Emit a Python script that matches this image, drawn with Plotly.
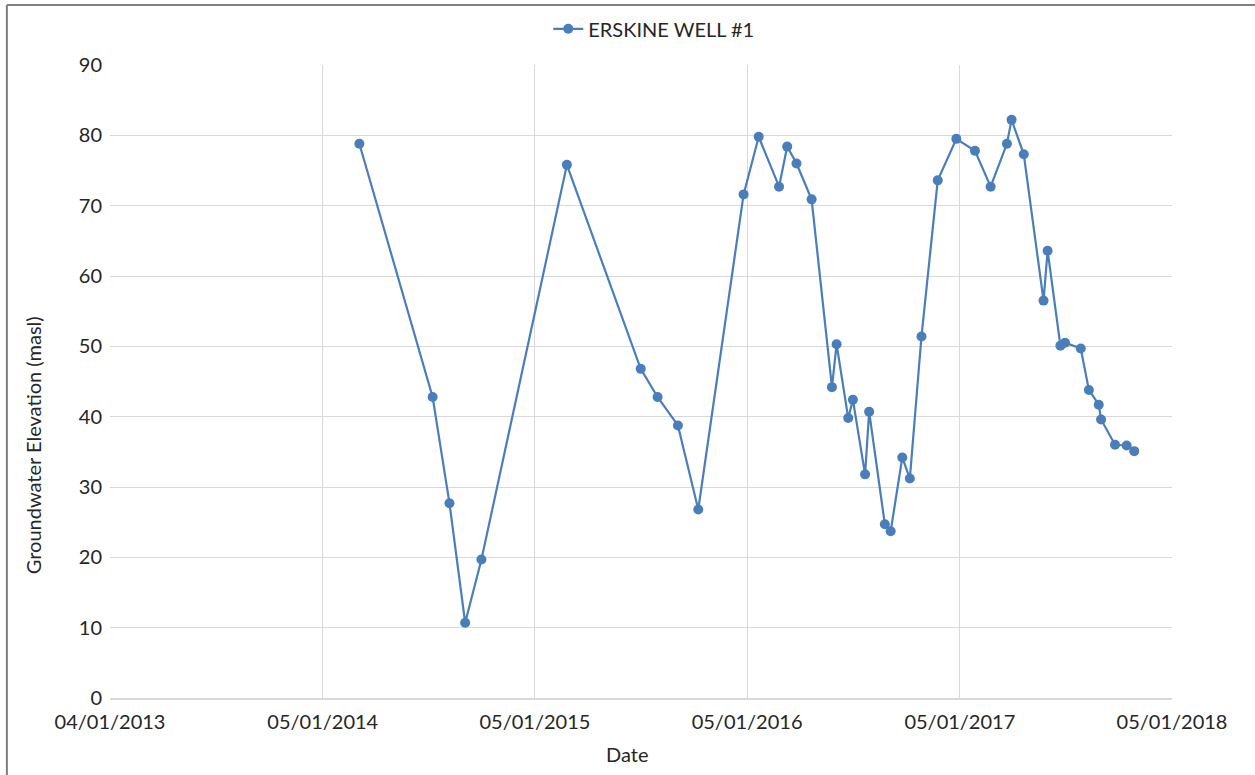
import plotly.graph_objects as go

dates = [
    "2014-03-09", "2014-07-13", "2014-08-11", "2014-09-07", "2014-10-05",
    "2015-03-01", "2015-07-06", "2015-08-04", "2015-09-08", "2015-10-13",
    "2015-12-30", "2016-01-25", "2016-02-29", "2016-03-14", "2016-03-30",
    "2016-04-25", "2016-05-30", "2016-06-07", "2016-06-27", "2016-07-05",
    "2016-07-26", "2016-08-02", "2016-08-29", "2016-09-08", "2016-09-28",
    "2016-10-11", "2016-10-31", "2016-11-28", "2016-12-30", "2017-01-31",
    "2017-02-27", "2017-03-27", "2017-04-04", "2017-04-25", "2017-05-29",
    "2017-06-05", "2017-06-27", "2017-07-05", "2017-08-01", "2017-08-15",
    "2017-09-01", "2017-09-05", "2017-09-29", "2017-10-19", "2017-11-01",
]
elevation = [
    78.8, 42.8, 27.7, 10.7, 19.7,
    75.8, 46.8, 42.8, 38.75, 26.8,
    71.6, 79.8, 72.7, 78.4, 76.0,
    70.9, 44.2, 50.3, 39.8, 42.4,
    31.8, 40.7, 24.7, 23.7, 34.2,
    31.2, 51.4, 73.6, 79.5, 77.8,
    72.7, 78.8, 82.2, 77.3, 56.5,
    63.6, 50.1, 50.5, 49.7, 43.8,
    41.7, 39.6, 36.0, 35.9, 35.1,
]
series_name = "ERSKINE WELL #1"

x_tick_dates = ["2013-01-04", "2014-01-05", "2015-01-05", "2016-01-05", "2017-01-05", "2018-01-05"]
x_tick_labels = ["04/01/2013", "05/01/2014", "05/01/2015", "05/01/2016", "05/01/2017", "05/01/2018"]
y_ticks = [0, 10, 20, 30, 40, 50, 60, 70, 80, 90]

color = "#4a7ebb"
font_family = "Lato, 'Open Sans', sans-serif"
text_color = "#262626"
grid_color = "#d9d9d9"

fig = go.Figure()
fig.add_trace(go.Scatter(
    x=dates, y=elevation, name=series_name, mode="lines+markers",
    line=dict(color=color, width=2.2),
    marker=dict(color=color, size=10),
    showlegend=True,
))

fig.update_layout(
    width=1255, height=775,
    margin=dict(l=110, r=83, t=65, b=77, autoexpand=False),
    paper_bgcolor="white", plot_bgcolor="white",
    font=dict(family=font_family, size=20, color=text_color),
    showlegend=True,
    legend=dict(orientation="h", x=0.512, xanchor="center",
                yref="container", y=0.988, yanchor="top",
                font=dict(size=20, color=text_color), bgcolor="rgba(0,0,0,0)"),
    xaxis=dict(
        type="date", range=[x_tick_dates[0], x_tick_dates[-1]],
        tickvals=x_tick_dates, ticktext=x_tick_labels,
        showgrid=True, gridcolor=grid_color, gridwidth=1,
        showline=True, linecolor=grid_color, linewidth=1.5,
        ticks="", tickfont=dict(size=20, color=text_color),
        ticklabelstandoff=5,
        zeroline=False,
    ),
    yaxis=dict(
        range=[0, 90], tickvals=y_ticks,
        showgrid=True, gridcolor=grid_color, gridwidth=1,
        showline=False, zeroline=False, ticks="", ticklen=0,
        ticklabelstandoff=7,
        tickfont=dict(size=20, color=text_color),
    ),
    annotations=[
        dict(text="Groundwater Elevation (masl)", textangle=-90, xref="paper", yref="paper",
             x=-0.073, y=0.40, xanchor="center", yanchor="middle", showarrow=False,
             font=dict(size=20, color=text_color)),
        dict(text="Date", xref="paper", yref="paper", x=0.487, y=-0.088,
             xanchor="center", yanchor="middle", showarrow=False,
             font=dict(size=20, color=text_color)),
    ],
    shapes=[
        dict(type="line", xref="paper", yref="paper", x0=-0.0971, x1=1.1, y0=1.0948, y1=1.0948,
             line=dict(color="#7f7f7f", width=2)),
        dict(type="line", xref="paper", yref="paper", x0=-0.0971, x1=-0.0971, y0=1.0948, y1=-0.13,
             line=dict(color="#7f7f7f", width=2)),
    ],
)

post = (
    "document.body.style.margin='0';"
    "document.body.style.overflow='hidden';"
    "var d=document.getElementById('{plot_id}');"
    "d.style.position='absolute';d.style.left='0px';d.style.top='0px';"
)
fig.write_html("out.html", post_script=post, config={"displayModeBar": False})
